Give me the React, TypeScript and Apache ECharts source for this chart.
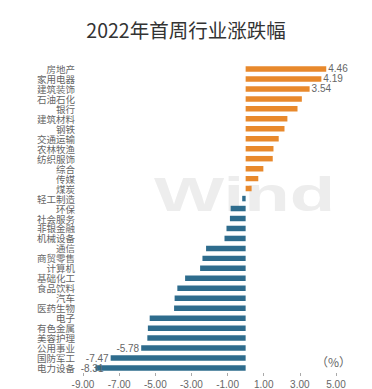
import React, { useEffect, useRef } from "react";
import * as echarts from "echarts";

const categories = [
  "房地产", "家用电器", "建筑装饰", "石油石化", "银行", "建筑材料", "钢铁", "交通运输",
  "农林牧渔", "纺织服饰", "综合", "传媒", "煤炭", "轻工制造", "环保", "社会服务",
  "非银金融", "机械设备", "通信", "商贸零售", "计算机", "基础化工", "食品饮料", "汽车",
  "医药生物", "电子", "有色金属", "美容护理", "公用事业", "国防军工", "电力设备",
];
const values = [
  4.46, 4.19, 3.54, 3.11, 2.87, 2.31, 2.15, 1.83,
  1.54, 1.5, 0.98, 0.7, 0.33, -0.19, -0.83, -0.87,
  -1.06, -1.17, -2.19, -2.39, -2.52, -3.35, -3.78, -3.93,
  -3.96, -5.31, -5.41, -5.44, -5.78, -7.47, -8.31,
];
const labeledCategories = ["房地产", "家用电器", "建筑装饰", "公用事业", "国防军工", "电力设备"];
const xTicks = [-9, -7, -5, -3, -1, 1, 3, 5];
const title = "2022年首周行业涨跌幅";
const unitLabel = "（%）";
const watermark = "Wind";

const UP = "#E8892C";
const DOWN = "#2E6C8D";
const TXT = "#666666";

export default function App() {
  const ref = useRef<HTMLDivElement>(null);
  useEffect(() => {
    if (!ref.current) return;
    const chart = echarts.init(ref.current, undefined, { renderer: "svg" });
    const data = values.map((v, i) => {
      const show = labeledCategories.includes(categories[i]);
      return {
        value: v,
        itemStyle: { color: v >= 0 ? UP : DOWN },
        label: {
          show,
          position: v >= 0 ? "right" : "left",
          distance: 2,
          offset: categories[i] === "电力设备" ? [10, 0] : [0, 0],
        },
      };
    });
    chart.setOption({
      animation: false,
      backgroundColor: "#ffffff",
      title: {
        text: title,
        left: "center",
        top: 15,
        textStyle: {
          fontSize: 19.5,
          fontWeight: "normal",
          color: "#333333",
          fontFamily: "Noto Sans CJK SC",
        },
      },
      graphic: [
        {
          type: "text",
          x: 154,
          y: 170,
          scaleX: 1.55,
          z: -10,
          silent: true,
          style: {
            text: watermark,
            fontSize: 48,
            fontWeight: "bold",
            fontFamily: "Liberation Sans",
            fill: "#ededed",
          },
        },
        {
          type: "text",
          left: 316,
          top: 355,
          style: {
            text: unitLabel,
            fontSize: 12,
            fontFamily: "Noto Sans CJK SC",
            fill: TXT,
          },
        },
      ],
      grid: { left: 83, right: 36, top: 64, bottom: 14, containLabel: false },
      xAxis: {
        type: "value",
        min: -9,
        max: 5,
        splitLine: { show: false },
        axisLine: { show: false },
        axisTick: {
          show: true,
          customValues: xTicks,
          length: 3,
          lineStyle: { color: "#aaaaaa" },
        },
        axisLabel: {
          customValues: xTicks,
          formatter: (v: number) => v.toFixed(2),
          fontSize: 10,
          color: TXT,
          margin: 6,
          fontFamily: "Liberation Sans",
        },
      },
      yAxis: {
        type: "category",
        inverse: true,
        data: categories,
        axisLine: { show: false },
        axisTick: { show: false },
        axisLabel: {
          interval: 0,
          fontSize: 9.5,
          lineHeight: 9,
          color: TXT,
          margin: 8,
          fontFamily: "Noto Sans CJK SC",
        },
      },
      series: [
        {
          type: "bar",
          data,
          barWidth: "55%",
          label: {
            fontSize: 10,
            color: TXT,
            fontFamily: "Liberation Sans",
            formatter: (p: any) => Number(p.value).toFixed(2),
          },
        },
      ],
    });
    return () => chart.dispose();
  }, []);
  return (
    <div
      ref={ref}
      style={{ position: "fixed", left: 0, top: 0, width: 372, height: 389 }}
    />
  );
}
